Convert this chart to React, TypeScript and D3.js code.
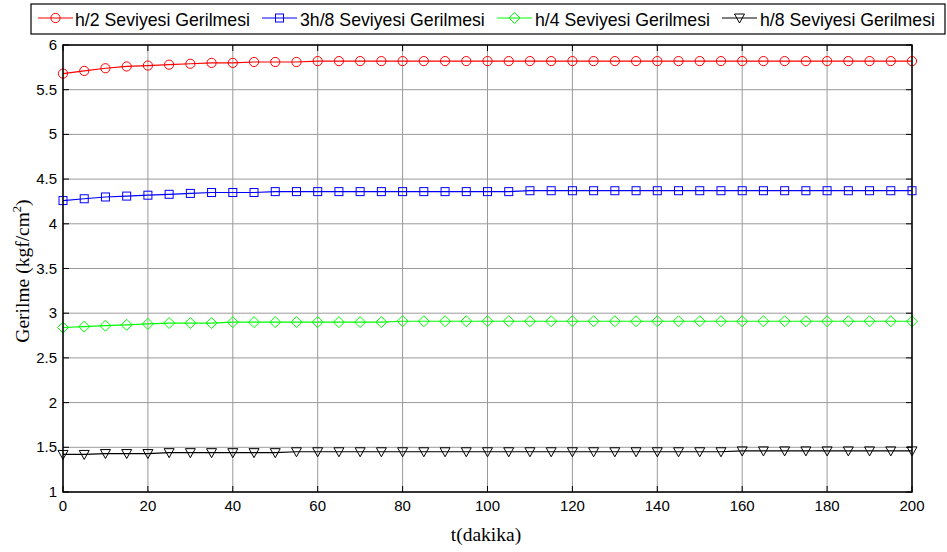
import React from "react";
import * as d3 from "d3";

const tValues = d3.range(0, 201, 5);
const h2Values = [5.68, 5.71, 5.74, 5.76, 5.77, 5.78, 5.79, 5.80, 5.80, 5.81, 5.81, 5.81, 5.82, 5.82, 5.82, 5.82, 5.82, 5.82, 5.82, 5.82, 5.82, 5.82, 5.82, 5.82, 5.82, 5.82, 5.82, 5.82, 5.82, 5.82, 5.82, 5.82, 5.82, 5.82, 5.82, 5.82, 5.82, 5.82, 5.82, 5.82, 5.82];
const h38Values = [4.26, 4.28, 4.30, 4.31, 4.32, 4.33, 4.34, 4.35, 4.35, 4.35, 4.36, 4.36, 4.36, 4.36, 4.36, 4.36, 4.36, 4.36, 4.36, 4.36, 4.36, 4.36, 4.37, 4.37, 4.37, 4.37, 4.37, 4.37, 4.37, 4.37, 4.37, 4.37, 4.37, 4.37, 4.37, 4.37, 4.37, 4.37, 4.37, 4.37, 4.37];
const h4Values = [2.84, 2.85, 2.86, 2.87, 2.88, 2.89, 2.89, 2.89, 2.90, 2.90, 2.90, 2.90, 2.90, 2.90, 2.90, 2.90, 2.91, 2.91, 2.91, 2.91, 2.91, 2.91, 2.91, 2.91, 2.91, 2.91, 2.91, 2.91, 2.91, 2.91, 2.91, 2.91, 2.91, 2.91, 2.91, 2.91, 2.91, 2.91, 2.91, 2.91, 2.91];
const h8Values = [1.42, 1.42, 1.43, 1.43, 1.43, 1.44, 1.44, 1.44, 1.44, 1.44, 1.44, 1.45, 1.45, 1.45, 1.45, 1.45, 1.45, 1.45, 1.45, 1.45, 1.45, 1.45, 1.45, 1.45, 1.45, 1.45, 1.45, 1.45, 1.45, 1.45, 1.45, 1.45, 1.46, 1.46, 1.46, 1.46, 1.46, 1.46, 1.46, 1.46, 1.46];
const seriesNames = ["h/2 Seviyesi Gerilmesi", "3h/8 Seviyesi Gerilmesi", "h/4 Seviyesi Gerilmesi", "h/8 Seviyesi Gerilmesi"];
const xTicks = d3.range(0, 201, 20);
const yTicks = d3.range(1, 6.01, 0.5);

const W = 947, H = 552;
const L = 63, R = 912, T = 45, B = 492;

type MarkerKind = "circle" | "square" | "diamond" | "triangle";

function Marker({ kind, x, y, color }: { kind: MarkerKind; x: number; y: number; color: string }) {
  const common = { fill: "none", stroke: color, strokeWidth: 1 };
  if (kind === "circle") return <circle cx={x} cy={y} r={4.6} {...common} />;
  if (kind === "square") return <rect x={x - 4} y={y - 4} width={8} height={8} {...common} />;
  if (kind === "diamond") return <path d={`M${x},${y - 5.5}L${x + 5.5},${y}L${x},${y + 5.5}L${x - 5.5},${y}Z`} {...common} />;
  return <path d={`M${x - 5},${y - 4}L${x + 5},${y - 4}L${x},${y + 5}Z`} {...common} />;
}

export default function App() {
  const x = d3.scaleLinear().domain([0, 200]).range([L, R]);
  const y = d3.scaleLinear().domain([1, 6]).range([B, T]);
  const series = [
    { name: seriesNames[0], values: h2Values, color: "#ff0000", kind: "circle" as MarkerKind },
    { name: seriesNames[1], values: h38Values, color: "#0000ff", kind: "square" as MarkerKind },
    { name: seriesNames[2], values: h4Values, color: "#00ff00", kind: "diamond" as MarkerKind },
    { name: seriesNames[3], values: h8Values, color: "#000000", kind: "triangle" as MarkerKind },
  ];
  const line = d3.line<[number, number]>().x((d) => x(d[0])).y((d) => y(d[1]));
  const legendPos = [
    { lx: 38, tx: 75 },
    { lx: 262, tx: 300 },
    { lx: 497, tx: 535 },
    { lx: 722, tx: 760 },
  ];
  return (
    <svg width={W} height={H} style={{ position: "absolute", left: 0, top: 0, background: "#fff" }}>
      <rect x={0} y={0} width={W} height={H} fill="#fff" />
      {xTicks.map((t) => (
        <line key={"gx" + t} x1={x(t)} x2={x(t)} y1={T} y2={B} stroke="#9a9a9a" strokeWidth={1} />
      ))}
      {yTicks.map((t) => (
        <line key={"gy" + t} x1={L} x2={R} y1={y(t)} y2={y(t)} stroke="#9a9a9a" strokeWidth={1} />
      ))}
      {xTicks.map((t) => (
        <g key={"tx" + t}>
          <line x1={x(t)} x2={x(t)} y1={B} y2={B - 6} stroke="#000" />
          <line x1={x(t)} x2={x(t)} y1={T} y2={T + 6} stroke="#000" />
          <text x={x(t)} y={511} textAnchor="middle" fontFamily="'Liberation Sans', Arial, sans-serif" fontSize={15} fill="#000">{t}</text>
        </g>
      ))}
      {yTicks.map((t) => (
        <g key={"ty" + t}>
          <line x1={L} x2={L + 6} y1={y(t)} y2={y(t)} stroke="#000" />
          <line x1={R} x2={R - 6} y1={y(t)} y2={y(t)} stroke="#000" />
          <text x={57} y={y(t) + 5} textAnchor="end" fontFamily="'Liberation Sans', Arial, sans-serif" fontSize={15} fill="#000">{d3.format("~g")(t)}</text>
        </g>
      ))}
      {series.map((s) => {
        const pts: [number, number][] = tValues.map((t, i) => [t, s.values[i]]);
        return (
          <g key={s.name}>
            <path d={line(pts) || ""} fill="none" stroke={s.color} strokeWidth={1.2} />
            {pts.map((p, i) => (
              <Marker key={i} kind={s.kind} x={x(p[0])} y={y(p[1])} color={s.color} />
            ))}
          </g>
        );
      })}
      <rect x={L} y={T} width={R - L} height={B - T} fill="none" stroke="#000" strokeWidth={1.5} />
      <text x={486} y={541} textAnchor="middle" fontFamily="'Liberation Serif', 'Times New Roman', serif" fontSize={19.5} fill="#000">t(dakika)</text>
      <text transform={`translate(29,271) rotate(-90)`} textAnchor="middle" fontFamily="'Liberation Serif', 'Times New Roman', serif" fontSize={19.5} fill="#000">
        Gerilme (kgf/cm<tspan dy={-8} fontSize={12.5}>2</tspan><tspan dy={8}>)</tspan>
      </text>
      <rect x={31} y={4} width={914} height={30} fill="#fff" stroke="#000" strokeWidth={1.2} />
      {series.map((s, i) => (
        <g key={"lg" + i}>
          <line x1={legendPos[i].lx} x2={legendPos[i].lx + 35} y1={18} y2={18} stroke={s.color} strokeWidth={1.2} />
          <Marker kind={s.kind} x={legendPos[i].lx + 17.5} y={18} color={s.color} />
          <text x={legendPos[i].tx} y={25.5} fontFamily="'Liberation Sans', Arial, sans-serif" fontSize={17.7} fill="#000">{s.name}</text>
        </g>
      ))}
    </svg>
  );
}
